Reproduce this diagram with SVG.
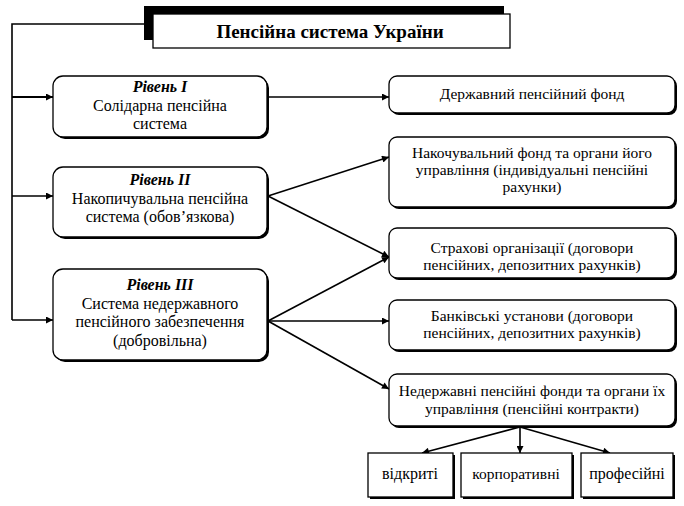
<svg xmlns="http://www.w3.org/2000/svg" width="684" height="506" viewBox="0 0 684 506" font-family="'Liberation Serif','Times New Roman',serif">
<defs>
<marker id="ah" viewBox="0 0 10 10" refX="10" refY="5" markerWidth="9" markerHeight="7" markerUnits="userSpaceOnUse" orient="auto">
<path d="M0,0 L10,5 L0,10 z" fill="#000"/>
</marker>
<style>
text{font-family:'Liberation Serif','Times New Roman',serif;fill:#000;text-anchor:middle}
.t{font-size:15.5px}
.tl{font-size:16px}
.lv{font-size:16px;font-weight:bold;font-style:italic}
.title{font-size:19px;font-weight:bold}
.box{fill:#fff;stroke:#000;stroke-width:1.3}
.sh{fill:#000}
.ln{fill:none;stroke:#000;stroke-width:1.6}
.ar{fill:none;stroke:#000;stroke-width:1.6;marker-end:url(#ah)}
</style>
</defs>
<rect width="684" height="506" fill="#fff"/>
<g id="connectors">
<path class="ln" d="M145,24 H12 V320"/>
<line class="ar" x1="12" y1="97" x2="53" y2="97" style="stroke-width:2.2"/>
<line class="ar" x1="12" y1="196" x2="53" y2="196"/>
<line class="ar" x1="12" y1="320" x2="53" y2="320"/>
<line class="ar" x1="268" y1="97" x2="389" y2="97"/>
<line class="ar" x1="268" y1="196" x2="389" y2="157"/>
<line class="ar" x1="268" y1="196" x2="389" y2="257"/>
<line class="ar" x1="268" y1="321" x2="389" y2="257"/>
<line class="ar" x1="268" y1="321" x2="389" y2="321"/>
<line class="ar" x1="268" y1="321" x2="389" y2="389"/>
<line class="ar" x1="520" y1="427" x2="422" y2="453"/>
<line class="ar" x1="520" y1="427" x2="520" y2="453"/>
<line class="ar" x1="520" y1="427" x2="610" y2="453"/>
</g>
<g id="title">
<rect class="sh" x="144" y="6" width="360" height="34"/>
<rect class="box" x="153" y="14" width="357" height="34"/>
<text class="title" x="330" y="38">Пенсійна система України</text>
</g>
<g id="level1">
<rect class="sh" x="55" y="78" width="214" height="61" rx="10"/>
<rect class="box" x="53" y="76" width="214" height="61" rx="10"/>
<text class="lv" x="160" y="92">Рівень I</text>
<text class="tl" x="160" y="110.5">Солідарна пенсійна</text>
<text class="tl" x="160" y="129">система</text>
</g>
<g id="level2">
<rect class="sh" x="55" y="169" width="214" height="70" rx="10"/>
<rect class="box" x="53" y="167" width="214" height="70" rx="10"/>
<text class="lv" x="160" y="185">Рівень II</text>
<text class="tl" x="160" y="203.5">Накопичувальна пенсійна</text>
<text class="tl" x="160" y="222">система (обов’язкова)</text>
</g>
<g id="level3">
<rect class="sh" x="55" y="271" width="214" height="91" rx="10"/>
<rect class="box" x="53" y="269" width="214" height="91" rx="10"/>
<text class="lv" x="160" y="290">Рівень III</text>
<text class="tl" x="160" y="308.5">Система недержавного</text>
<text class="tl" x="160" y="327">пенсійного забезпечення</text>
<text class="tl" x="160" y="345.5">(добровільна)</text>
</g>
<g id="stateFund">
<rect class="sh" x="391" y="78" width="286" height="37" rx="8"/>
<rect class="box" x="389" y="76" width="286" height="37" rx="8"/>
<text class="t" x="532" y="99">Державний пенсійний фонд</text>
</g>
<g id="accumFund">
<rect class="sh" x="391" y="139" width="286" height="70" rx="8"/>
<rect class="box" x="389" y="137" width="286" height="70" rx="8"/>
<text class="t" x="532" y="158">Накочувальний фонд та органи його</text>
<text class="t" x="532" y="175">управління (індивідуальні пенсійні</text>
<text class="t" x="532" y="192">рахунки)</text>
</g>
<g id="insurance">
<rect class="sh" x="391" y="230" width="286" height="50" rx="8"/>
<rect class="box" x="389" y="228" width="286" height="50" rx="8"/>
<text class="t" x="532" y="253">Страхові організації (договори</text>
<text class="t" x="532" y="270">пенсійних, депозитних рахунків)</text>
</g>
<g id="banks">
<rect class="sh" x="391" y="302" width="286" height="50" rx="8"/>
<rect class="box" x="389" y="300" width="286" height="50" rx="8"/>
<text class="t" x="532" y="321">Банківські установи (договори</text>
<text class="t" x="532" y="338">пенсійних, депозитних рахунків)</text>
</g>
<g id="npf">
<rect class="sh" x="391" y="376" width="286" height="52" rx="8"/>
<rect class="box" x="389" y="374" width="286" height="52" rx="8"/>
<text class="t" x="532" y="396">Недержавні пенсійні фонди та органи їх</text>
<text class="t" x="532" y="414">управління (пенсійні контракти)</text>
</g>
<g id="open">
<rect class="sh" x="370" y="455" width="85" height="44"/>
<rect class="box" x="368" y="453" width="85" height="44"/>
<text class="t" x="410" y="479" style="font-size:16px">відкриті</text>
</g>
<g id="corporate">
<rect class="sh" x="463" y="455" width="111" height="44"/>
<rect class="box" x="461" y="453" width="111" height="44"/>
<text class="t" x="516" y="479">корпоративні</text>
</g>
<g id="professional">
<rect class="sh" x="583" y="455" width="92" height="44"/>
<rect class="box" x="581" y="453" width="92" height="44"/>
<text class="t" x="627" y="479" style="font-size:16px">професійні</text>
</g>
</svg>
